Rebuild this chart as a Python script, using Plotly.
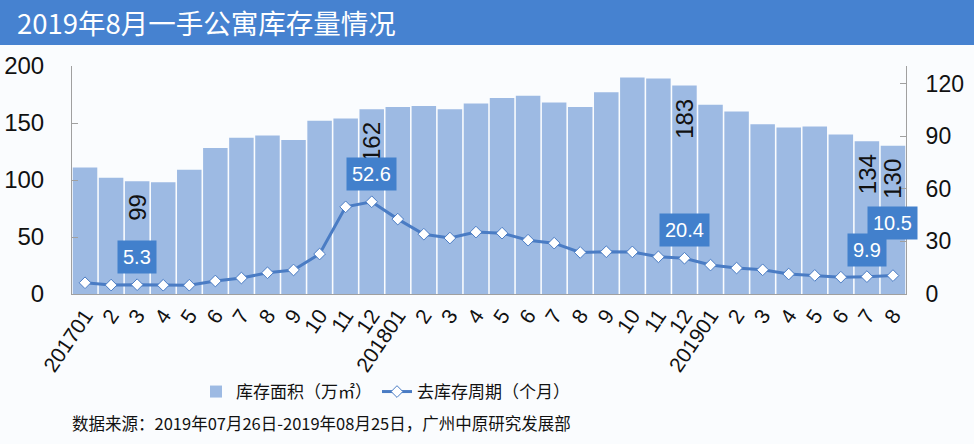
import plotly.graph_objects as go

# ---- data ----
months = ["2017-01", "2017-02", "2017-03", "2017-04", "2017-05", "2017-06", "2017-07", "2017-08",
          "2017-09", "2017-10", "2017-11", "2017-12", "2018-01", "2018-02", "2018-03", "2018-04",
          "2018-05", "2018-06", "2018-07", "2018-08", "2018-09", "2018-10", "2018-11", "2018-12",
          "2019-01", "2019-02", "2019-03", "2019-04", "2019-05", "2019-06", "2019-07", "2019-08"]
tick_labels = ["201701", "2", "3", "4", "5", "6", "7", "8", "9", "10", "11", "12",
               "201801", "2", "3", "4", "5", "6", "7", "8", "9", "10", "11", "12",
               "201901", "2", "3", "4", "5", "6", "7", "8"]
inventory_area = [111, 102, 99, 98, 109, 128, 137, 139, 135, 152, 154, 162,
                  164, 165, 162, 167, 172, 174, 168, 164, 177, 190, 189, 183,
                  166, 160, 149, 146, 147, 140, 134, 130]
destock_months = [6.4, 5.1, 5.3, 5.0, 5.0, 7.4, 9.1, 12.1, 13.7, 22.8, 49.7, 52.6,
                  42.7, 34.1, 31.9, 35.3, 34.7, 30.7, 29.0, 23.7, 24.1, 24.0, 21.2, 20.4,
                  16.5, 14.8, 13.8, 11.4, 10.6, 9.6, 9.9, 10.5]
bar_label_idx = [2, 11, 23, 30, 31]
line_label_idx = [2, 11, 23, 30, 31]
line_label_shift = [28, 28, 28, 27, 53]

title_text = "2019年8月一手公寓库存量情况"
source_text = "数据来源：2019年07月26日-2019年08月25日，广州中原研究发展部"
bar_name = "库存面积（万㎡）"
line_name = "去库存周期（个月）"

# ---- styles ----
BAR_COLOR = "#9DBAE3"
LINE_COLOR = "#4A7CC4"
BOX_COLOR = "#4280CC"
BAND_COLOR = "#4682D0"
BG = "#FAFCFE"
NUM_FONT = "Liberation Sans, Arial, sans-serif"
CJK_FONT = "Noto Sans CJK SC, sans-serif"

W, H = 974, 444
ML, MR, MT, MB = 72, 68, 66, 150
PW = W - ML - MR
PH = H - MT - MB


def px_x(px):
    return (px - ML) / PW


def px_y(py):
    return (H - MB - py) / PH


fig = go.Figure()
fig.add_trace(go.Bar(
    x=months, y=inventory_area, name=bar_name,
    marker=dict(color=BAR_COLOR, line=dict(width=0)),
    yaxis="y",
))
fig.add_trace(go.Scatter(
    x=months, y=destock_months, name=line_name, mode="lines+markers",
    line=dict(color=LINE_COLOR, width=3),
    marker=dict(symbol="diamond", size=9, color="white",
                line=dict(color=LINE_COLOR, width=1)),
    yaxis="y2",
))

annotations = []
for i in bar_label_idx:
    annotations.append(dict(
        x=i, y=inventory_area[i], xref="x", yref="y",
        text=str(inventory_area[i]), textangle=-90, showarrow=False,
        yanchor="top", xanchor="center", yshift=-11,
        font=dict(family=NUM_FONT, size=24, color="#111111"),
    ))
for i, s in zip(line_label_idx, line_label_shift):
    annotations.append(dict(
        x=i, y=destock_months[i], xref="x", yref="y2",
        text=str(destock_months[i]), showarrow=False,
        yanchor="middle", xanchor="center", yshift=s,
        bgcolor=BOX_COLOR, borderpad=5,
        font=dict(family=NUM_FONT, size=20, color="white"),
    ))
annotations.append(dict(
    x=px_x(15), y=px_y(22), xref="paper", yref="paper", text=title_text,
    showarrow=False, xanchor="left", yanchor="middle",
    font=dict(family=CJK_FONT, size=27.5, color="white"),
))
annotations.append(dict(
    x=px_x(70), y=px_y(423), xref="paper", yref="paper", text=source_text,
    showarrow=False, xanchor="left", yanchor="middle",
    font=dict(family=CJK_FONT, size=16.5, color="#111111"),
))

shapes = [dict(
    type="rect", xref="paper", yref="paper", layer="above",
    x0=px_x(0), x1=px_x(W), y0=px_y(45), y1=px_y(0),
    fillcolor=BAND_COLOR, line=dict(width=0),
)]

fig.update_layout(
    width=W, height=H,
    margin=dict(l=ML, r=MR, t=MT, b=MB, autoexpand=False),
    paper_bgcolor=BG, plot_bgcolor=BG,
    bargap=0.06,
    showlegend=True,
    legend=dict(orientation="h", x=px_x(196), y=px_y(392), xanchor="left",
                yanchor="middle", font=dict(family=CJK_FONT, size=17, color="#111111"),
                bgcolor="rgba(0,0,0,0)", itemwidth=30, traceorder="normal"),
    xaxis=dict(
        type="category", tickmode="array", tickvals=months, ticktext=tick_labels,
        range=[-0.5, len(months) - 0.5],
        tickangle=-56, tickfont=dict(family=NUM_FONT, size=21, color="#111111"),
        showline=True, linecolor="#A0A0A0", linewidth=1, ticks="",
        showgrid=False, zeroline=False,
    ),
    yaxis=dict(
        range=[0, 200], tickvals=[0, 50, 100, 150, 200],
        tickfont=dict(family=NUM_FONT, size=24, color="#111111"),
        showline=True, linecolor="#A0A0A0", linewidth=1,
        ticks="inside", ticklen=6, tickcolor="#A0A0A0",
        ticklabelstandoff=22, showgrid=False, zeroline=False,
    ),
    yaxis2=dict(
        range=[0, 130], tickvals=[0, 30, 60, 90, 120], overlaying="y", side="right",
        tickfont=dict(family=NUM_FONT, size=23, color="#111111"),
        showline=True, linecolor="#A0A0A0", linewidth=1,
        ticks="inside", ticklen=6, tickcolor="#A0A0A0",
        ticklabelstandoff=14, showgrid=False, zeroline=False,
    ),
    annotations=annotations,
    shapes=shapes,
)

fig.write_html("out.html", config={"displayModeBar": False},
               post_script="document.body.style.margin='0';")
